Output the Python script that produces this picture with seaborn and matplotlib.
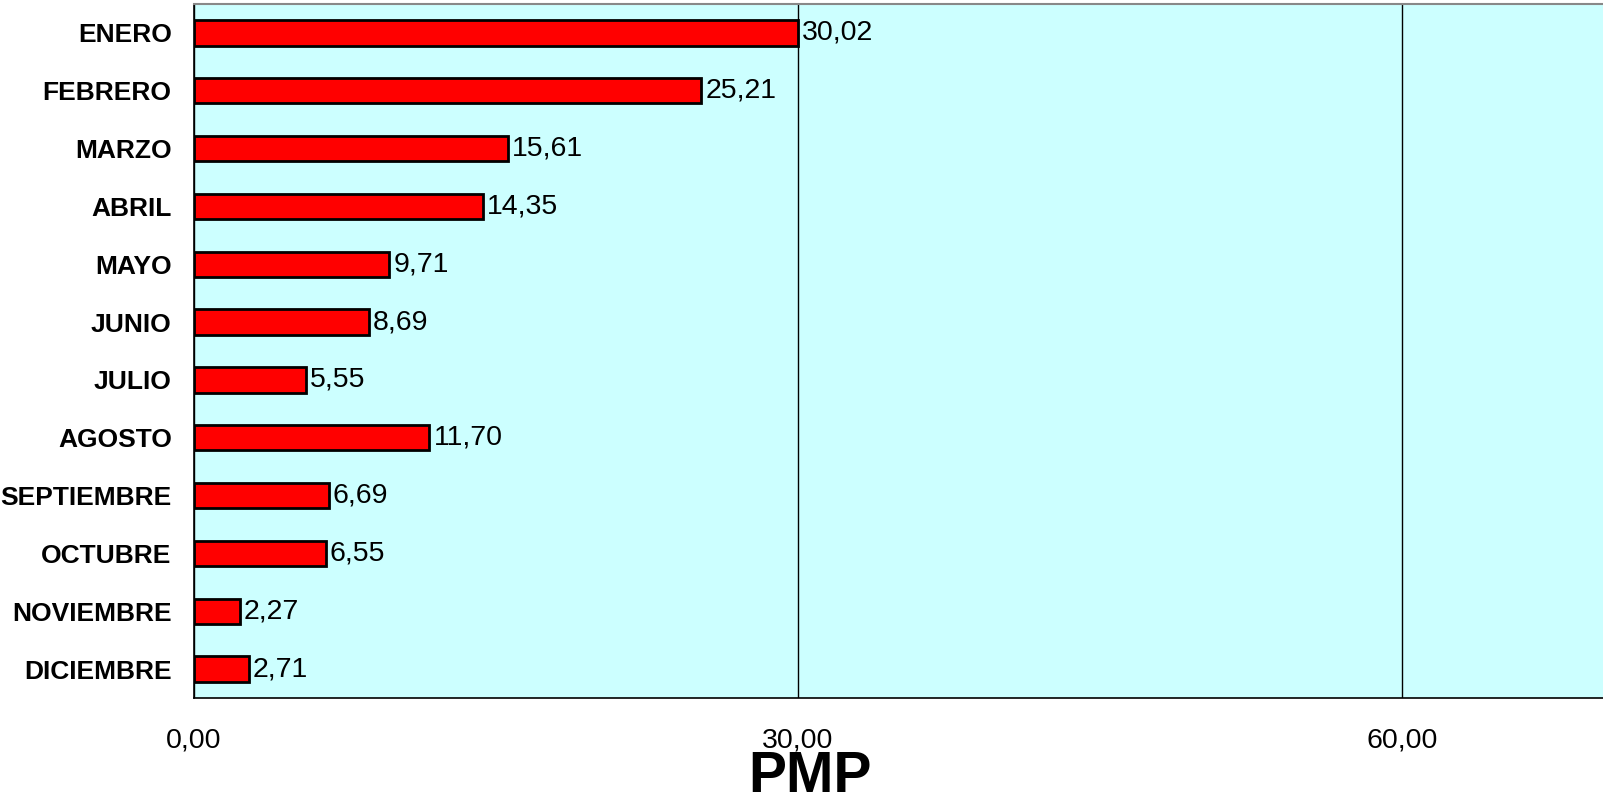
"""Monthly PMP horizontal bar chart."""

import matplotlib

matplotlib.use("Agg")
import matplotlib.pyplot as plt
import pandas as pd
import seaborn as sns

MONTHS = [
    "ENERO", "FEBRERO", "MARZO", "ABRIL", "MAYO", "JUNIO",
    "JULIO", "AGOSTO", "SEPTIEMBRE", "OCTUBRE", "NOVIEMBRE", "DICIEMBRE",
]
PMP_VALUES = [30.02, 25.21, 15.61, 14.35, 9.71, 8.69, 5.55, 11.70, 6.69, 6.55, 2.27, 2.71]
X_TICKS = [0, 30, 60]

df = pd.DataFrame({"mes": MONTHS, "pmp": PMP_VALUES})

sns.set_style("white")
plt.rcParams["font.family"] = ["Liberation Sans", "DejaVu Sans"]
plt.rcParams["text.color"] = "black"
plt.rcParams["xtick.color"] = "black"
plt.rcParams["ytick.color"] = "black"

fig = plt.figure(figsize=(16.03, 7.95), dpi=100)
ax = fig.add_axes([0.121, 0.122, 0.879, 0.873])
ax.set_facecolor("#CCFFFF")

sns.barplot(
    data=df, x="pmp", y="mes", order=MONTHS, orient="h",
    color="#FF0000", edgecolor="black", linewidth=2, width=0.44,
    saturation=1, ax=ax, zorder=3,
)

for bar, val in zip(ax.patches, PMP_VALUES):
    ax.text(
        bar.get_width() + 0.2, bar.get_y() + bar.get_height() / 2,
        f"{val:.2f}".replace(".", ","), va="center", ha="left", fontsize=20.5, zorder=4,
    )

ax.set_xlim(0, 70)
ax.set_ylim(len(MONTHS) - 0.5, -0.5)
ax.set_xticks(X_TICKS)
ax.set_xticklabels([f"{t:.2f}".replace(".", ",") for t in X_TICKS], fontsize=20.5)
ax.tick_params(axis="x", length=9, width=1, pad=12, direction="out")
ax.xaxis.grid(True, color="black", linewidth=1)
ax.set_axisbelow(True)

ax.set_yticks(range(len(MONTHS)))
ax.set_yticklabels(MONTHS, fontsize=19, fontweight="bold")
ax.set_yticks([i + 0.5 for i in range(-1, len(MONTHS))], minor=True)
ax.tick_params(axis="y", which="major", length=0, pad=16)
ax.tick_params(axis="y", which="minor", length=8, width=1, direction="out")

ax.set_xlabel("")
ax.set_ylabel("")
for side in ["left", "bottom"]:
    ax.spines[side].set_color("black")
    ax.spines[side].set_linewidth(1.2)
ax.spines["top"].set_color("#888888")
ax.spines["top"].set_linewidth(1.5)
ax.spines["right"].set_visible(False)

fig.text(0.505, 0.004, "PMP", ha="center", va="baseline", fontsize=41, fontweight="bold")

fig.savefig("out.png", dpi=100)
